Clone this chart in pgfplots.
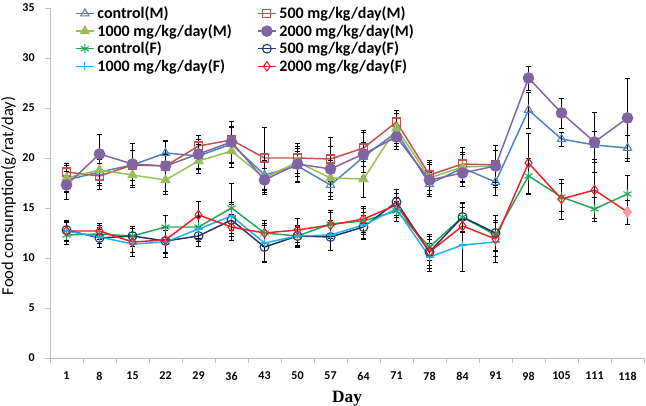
\documentclass[border=0pt]{standalone}
\usepackage{fontspec}
\setmainfont{Carlito}
\newfontfamily\dayfont{Liberation Serif}
\usepackage{pgfplots}
\usepackage{pgfplotstable}
\pgfplotsset{compat=1.18}

% columns: x = category index, y = mean, e = error
\pgfplotstableread{
x y e
0 17.8 1.2
1 18.6 1.3
2 19.3 1.5
3 20.5 1.3
4 20.2 1.2
5 21.4 1.8
6 18.3 1.5
7 19.2 1.5
8 17.3 1.4
9 20.1 1.5
10 22.6 1.4
11 17.4 1.2
12 19.0 1.4
13 17.6 1.3
14 24.8 1.8
15 21.9 0.7
16 21.3 1.4
17 21.0 1.3
}\ctrlM
\pgfplotstableread{
x y e
0 18.6 0.9
1 18.2 1.3
2 19.3 1.5
3 19.2 1.2
4 21.2 1.1
5 21.8 1.3
6 20.0 3.1
7 20.0 1.5
8 19.9 2.2
9 21.0 1.8
10 23.6 1.2
11 18.3 1.5
12 19.4 1.7
13 19.3 2.0
}\fiveM
\pgfplotstableread{
x y e
0 18.0 1.3
1 18.8 1.3
2 18.3 1.2
3 17.8 1.4
4 19.7 1.2
5 20.7 1.6
6 18.0 1.6
7 19.6 1.4
8 18.0 1.8
9 17.9 1.8
10 23.0 1.5
11 18.0 1.6
12 19.1 1.5
13 19.2 1.6
}\thouM
\pgfplotstableread{
x y e
0 17.3 1.4
1 20.4 2.0
2 19.4 2.1
3 19.2 2.5
4 20.4 1.5
5 21.6 2.1
6 17.8 1.2
7 19.4 1.8
8 18.9 2.3
9 20.4 2.2
10 22.1 1.2
11 17.8 1.6
12 18.5 1.3
13 19.2 2.1
14 28.0 1.2
15 24.5 1.5
16 21.6 3.0
17 24.0 4.0
}\twoM
\pgfplotstableread{
x y e
0 12.3 0.9
1 12.4 0.9
2 12.2 0.8
3 13.1 1.2
4 13.1 1.1
5 15.0 2.5
6 12.5 1.0
7 12.2 0.9
8 13.4 1.4
9 13.7 1.3
10 14.7 1.0
11 11.1 1.3
12 14.1 1.4
13 12.3 1.5
14 18.2 1.8
15 16.1 1.4
16 14.9 1.2
17 16.4 1.9
}\ctrlF
\pgfplotstableread{
x y e
0 12.8 1.0
1 12.0 0.9
2 12.2 1.0
3 11.7 1.1
4 12.2 1.0
5 13.8 1.6
6 11.1 1.5
7 12.2 1.0
8 12.1 1.3
9 13.1 1.2
10 15.6 1.3
11 10.6 1.3
12 14.1 1.5
13 12.5 1.8
}\fiveF
\pgfplotstableread{
x y e
0 12.7 1.0
1 12.1 1.0
2 11.4 1.2
3 11.6 1.5
4 12.9 1.2
5 14.2 1.4
6 11.5 1.8
7 12.2 1.1
8 12.3 1.5
9 13.3 1.3
10 14.9 1.2
11 10.1 1.4
12 11.3 2.6
13 11.6 2.0
}\thouF
\pgfplotstableread{
x y e
0 12.7 0.9
1 12.7 0.8
2 11.6 1.0
3 11.8 1.3
4 14.3 1.4
5 13.1 1.3
6 12.5 1.3
7 12.8 1.2
8 13.3 1.3
9 13.9 1.3
10 15.3 1.2
11 10.6 1.6
12 13.2 1.9
13 11.9 1.7
14 19.5 3.0
15 15.9 2.0
16 16.8 2.8
17 14.6 1.2
}\twoF

\definecolor{cM}{HTML}{4F81BD}
\definecolor{fM}{HTML}{C0504D}
\definecolor{tM}{HTML}{9BBB59}
\definecolor{wM}{HTML}{8064A2}
\definecolor{cF}{HTML}{1FA85A}
\definecolor{fF}{HTML}{1F3566}
\definecolor{tF}{HTML}{1DB2EA}
\definecolor{wF}{HTML}{F01E23}
\definecolor{axgray}{HTML}{BFBFBF}

\begin{document}
\begin{tikzpicture}
  \begin{axis}[
    name=ax,
    at={(0,0)}, anchor=south west,
    scale only axis,
    width=445.5pt, height=262.5pt,
    axis lines=left,
    axis line style={axgray, -},
    xmin=-0.5, xmax=17.5,
    ymin=0, ymax=35,
    xtick={0,...,17},
    xticklabels={1,8,15,22,29,36,43,50,57,64,71,78,84,91,98,105,111,118},
    major x tick style={draw=none},
    minor xtick={-0.5,0.5,...,17.5},
    minor tick length=4pt,
    ytick={0,5,...,35},
    major tick length=4pt,
    tick align=outside,
    tick style={axgray},
    /pgf/number format/assume math mode=true,
    tick label style={font=\bfseries\small, black},
    xticklabel style={yshift=-3pt},
    yticklabel style={xshift=-4pt},
    xlabel={\dayfont\bfseries Day},
    xlabel style={font=\fontsize{13}{15}\selectfont, yshift=-1pt},
    ylabel={Food consumption(g/rat/day)},
    ylabel style={font=\fontsize{12.4}{14}\selectfont,
      at={(axis description cs:-0.070,0.463)}, anchor=center},
    legend columns=2,
    legend cell align=left,
    legend style={draw=none, fill=none, font=\bfseries\fontsize{12}{14}\selectfont,
      at={(0.035,1.02)}, anchor=north west,
      row sep=-1.2pt,
      /tikz/column 2/.style={column sep=17pt}},
    legend image code/.code={
      \draw[mark repeat=2,mark phase=2] plot coordinates {(0cm,0cm)(0.24cm,0cm)(0.48cm,0cm)};},
    every axis plot/.append style={line width=1.1pt},
    error bars/y dir=both,
    error bars/y explicit,
    error bars/error bar style={black, line width=0.6pt, solid},
    error bars/error mark options={black, line width=0.6pt, mark size=2pt, rotate=90},
  ]
  \addplot[cM, mark=triangle, mark size=3.5pt, mark options={fill=white, line width=0.8pt}]
    table[x=x, y=y, y error=e] {\ctrlM};
  \addlegendentry{control(M)}
  \addplot[fM, mark=square, mark size=3pt, mark options={fill=white, line width=0.8pt}]
    table[x=x, y=y, y error=e] {\fiveM};
  \addlegendentry{500 mg/kg/day(M)}
  \addplot[tM, mark=triangle*, mark size=3.5pt]
    table[x=x, y=y, y error=e] {\thouM};
  \addlegendentry{1000 mg/kg/day(M)}
  \addplot[wM, mark=*, mark size=3.8pt]
    table[x=x, y=y, y error=e] {\twoM};
  \addlegendentry{2000 mg/kg/day(M)}
  \addplot[cF, mark=asterisk, mark size=3.5pt, mark options={line width=0.8pt}]
    table[x=x, y=y, y error=e] {\ctrlF};
  \addlegendentry{control(F)}
  \addplot[fF, mark=o, mark size=3.3pt, mark options={line width=0.8pt}]
    table[x=x, y=y, y error=e] {\fiveF};
  \addlegendentry{500 mg/kg/day(F)}
  \addplot[tF, mark=+, mark size=3pt, mark options={line width=0.8pt}]
    table[x=x, y=y, y error=e] {\thouF};
  \addlegendentry{1000 mg/kg/day(F)}
  \addplot[wF, mark=diamond, mark size=3.5pt, mark options={fill=white, line width=0.8pt}]
    table[x=x, y=y, y error=e] {\twoF};
  \addlegendentry{2000 mg/kg/day(F)}
  \addplot[forget plot, only marks, mark=diamond*, mark size=3.5pt, color=wF!45, error bars/y dir=none]
    coordinates {(17,14.6)};
  \end{axis}
  \pgfresetboundingbox
  \path (ax.south west) ++(-37.5pt,-36pt) rectangle ++(484.5pt,304.5pt);
\end{tikzpicture}
\end{document}
